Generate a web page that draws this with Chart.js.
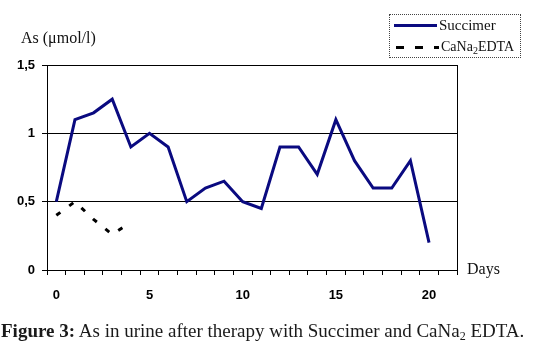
<!DOCTYPE html>
<html>
<head>
<meta charset="utf-8">
<script src="https://cdn.jsdelivr.net/npm/chart.js@4/dist/chart.umd.min.js"></script>
<style>
  body { margin: 0; background: #fff; }
  #wrap { position: relative; width: 539px; height: 350px; overflow: hidden; }
  #chart { position: absolute; left: 0; top: 0; }
  .txt { position: absolute; font-family: "Liberation Serif", "Times New Roman", serif; color: #111; line-height: 1; white-space: nowrap; }
  #legend { position: absolute; left: 389px; top: 14px; width: 130px; height: 42px; border: 1px dotted #444; }
  .sample { position: absolute; height: 3px; }
</style>
</head>
<body>
<div id="wrap">
  <canvas id="chart" width="539" height="350"></canvas>
  <div class="txt" style="left:21px; top:30px; font-size:16px;">As (μmol/l)</div>
  <div class="txt" style="left:467px; top:261px; font-size:16px;">Days</div>
  <div id="legend"></div>
  <div class="sample" style="left:394px; top:24px; width:43px; background:#0a0a80;"></div>
  <div class="txt" style="left:439px; top:18px; font-size:15px;">Succimer</div>
  <div class="sample" style="left:396px; top:46px; width:43px; background:repeating-linear-gradient(to right, #000 0 8px, transparent 8px 19px);"></div>
  <div class="txt" style="left:441px; top:40px; font-size:14px;">CaNa<sub style="font-size:10px; vertical-align:-3px;">2</sub>EDTA</div>
  <div class="txt" style="left:1px; top:321px; font-size:19px; color:#1a1a1a;"><b>Figure 3:</b> As in urine after therapy with Succimer and CaNa<sub style="font-size:12px; vertical-align:-3px;">2</sub> EDTA.</div>
</div>
<script>
  // days 0..21 on the category axis (Excel style, labels between tick marks)
  const days = ['0','1','2','3','4','5','6','7','8','9','10','11','12','13','14','15','16','17','18','19','20','21'];
  const succimer = [0.5, 1.1, 1.15, 1.25, 0.9, 1.0, 0.9, 0.5, 0.6, 0.65, 0.5, 0.45, 0.9, 0.9, 0.7, 1.1, 0.8, 0.6, 0.6, 0.8, 0.2];
  const edta = [0.4, 0.5, 0.37, 0.26, 0.35];
  const yTicks = [0, 0.5, 1, 1.5];

  // right edge of the plot frame
  const framePlugin = {
    id: 'frame',
    afterDraw(chart) {
      const { ctx, chartArea } = chart;
      ctx.save();
      ctx.strokeStyle = '#000';
      ctx.lineWidth = 1;
      ctx.beginPath();
      const x = Math.round(chartArea.right) + 0.5;
      ctx.moveTo(x, chartArea.top);
      ctx.lineTo(x, chartArea.bottom);
      ctx.stroke();
      ctx.restore();
    }
  };

  new Chart(document.getElementById('chart'), {
    type: 'line',
    data: {
      labels: days,
      datasets: [
        {
          label: 'Succimer',
          data: succimer,
          borderColor: '#0a0a80',
          borderWidth: 3,
          pointRadius: 0,
          tension: 0
        },
        {
          label: 'CaNa2EDTA',
          data: edta,
          borderColor: '#000',
          borderWidth: 3,
          borderDash: [5, 11],
          pointRadius: 0,
          tension: 0
        }
      ]
    },
    options: {
      responsive: false,
      animation: false,
      layout: { padding: { left: 0, top: 65, right: 82, bottom: 40 } },
      plugins: { legend: { display: false }, tooltip: { enabled: false } },
      scales: {
        x: {
          type: 'category',
          offset: true,
          afterFit(scale) { scale.height = 40; },
          grid: { offset: true, drawOnChartArea: false, drawTicks: true, tickLength: 5, color: '#000' },
          border: { color: '#000', width: 1 },
          ticks: {
            autoSkip: false,
            maxRotation: 0,
            padding: 13,
            color: '#000',
            font: { family: 'Liberation Sans, Arial, sans-serif', size: 13, weight: 'bold' },
            callback: (v, i) => (i % 5 === 0 ? days[i] : '')
          }
        },
        y: {
          min: 0,
          max: 1.5,
          afterFit(scale) { scale.width = 47; },
          afterBuildTicks(scale) { scale.ticks = yTicks.map(v => ({ value: v })); },
          grid: { color: '#000', lineWidth: 1, tickLength: 5 },
          border: { color: '#000', width: 1 },
          ticks: {
            padding: 7,
            color: '#000',
            font: { family: 'Liberation Sans, Arial, sans-serif', size: 13, weight: 'bold' },
            callback: v => String(v).replace('.', ',')
          }
        }
      }
    },
    plugins: [framePlugin]
  });
</script>
</body>
</html>
